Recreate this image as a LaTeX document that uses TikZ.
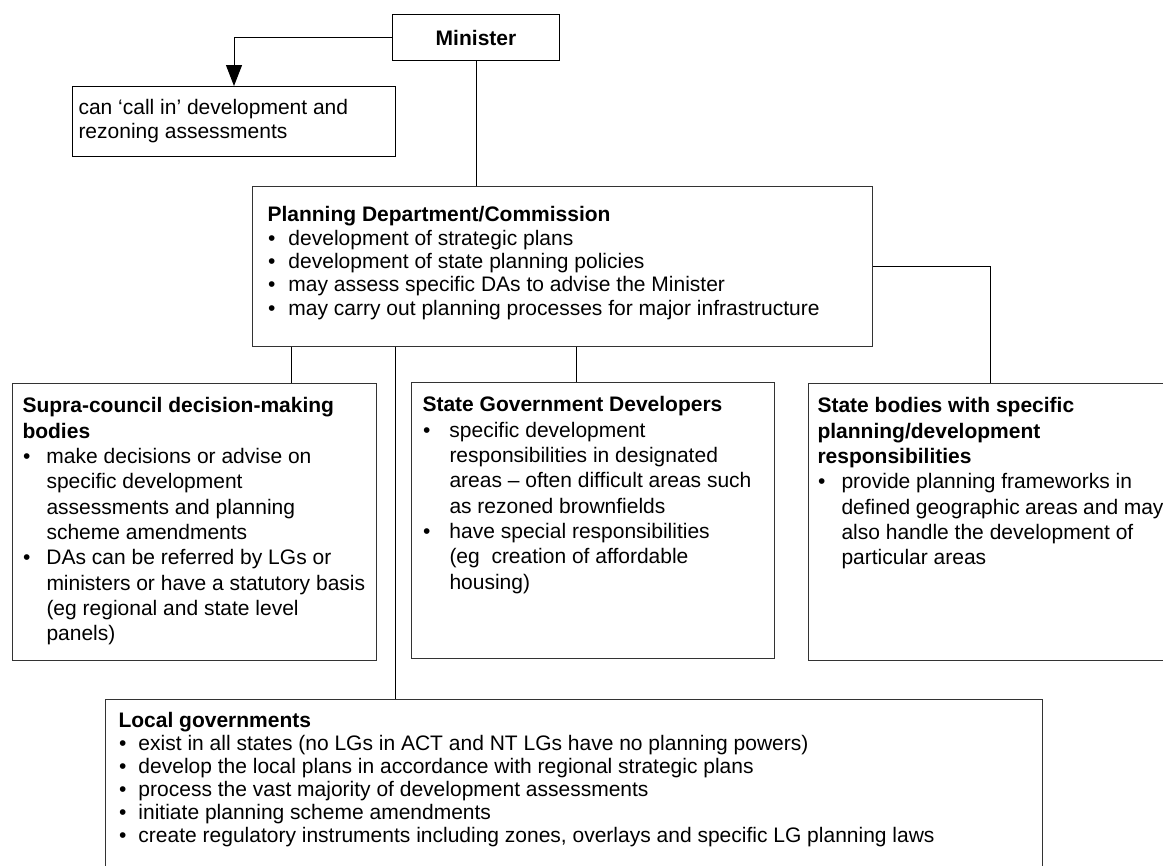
\documentclass[tikz,border=0pt]{standalone}
\usepackage{fontspec}
\setmainfont{Liberation Sans}
\usepackage{tikz}
\usetikzlibrary{arrows.meta,positioning,calc}

\newcommand{\boxfont}[1][19pt]{\fontsize{15.75pt}{#1}\selectfont}
\newcommand{\bul}[2][18pt]{\par\noindent\hangindent=#1\hangafter=1\makebox[#1][l]{\hspace{0.5pt}\textbullet}#2}

\begin{document}
\begin{tikzpicture}[x=0.75pt, y=-0.75pt]

\tikzstyle{orgbox} = [rectangle, draw=black!80, line width=0.75pt, anchor=north west, inner sep=0pt]
\tikzstyle{link} = [line width=0.75pt, draw=black]
\tikzstyle{arrow} = [link, -{Triangle[width=12pt,length=15.75pt]}]

\useasboundingbox (0,0) rectangle (1163,865);

\node (minister) [orgbox, draw=black, minimum width=125.25pt, minimum height=34.5pt] at (392,14) {\boxfont\textbf{Minister}};
\node (callin) [orgbox, draw=black, inner xsep=4.5pt, inner ysep=9.75pt] at (72,86) {\parbox[t][33pt][t]{233.25pt}{\boxfont[17.5pt]\raggedright can `call in' development and\\ rezoning assessments}};
\node (planning) [orgbox, inner xsep=11.25pt, inner ysep=15pt] at (252,186) {\parbox[t][90pt][t]{442.5pt}{\boxfont[17.5pt]\raggedright
  \textbf{Planning Department/Commission}
  \bul[15.75pt]{development of strategic plans}
  \bul[15.75pt]{development of state planning policies}
  \bul[15.75pt]{may assess specific DAs to advise the Minister}
  \bul[15.75pt]{may carry out planning processes for major infrastructure}}};
\node (supra) [orgbox, inner xsep=7.5pt, inner ysep=10.5pt] at (12,383) {\parbox[t][186.75pt][t]{258pt}{\boxfont\raggedright
  \textbf{Supra-council decision-making\\ bodies}
  \bul{make decisions or advise on\newline specific development\newline assessments and planning\newline scheme amendments}
  \bul{DAs can be referred by LGs or\newline ministers or have a statutory basis\newline (eg regional and state level\newline panels)}}};
\node (sgd) [orgbox, inner xsep=8.25pt, inner ysep=10.5pt] at (411,382) {\parbox[t][186pt][t]{255.75pt}{\boxfont\raggedright
  \textbf{State Government Developers}
  \bul[20.25pt]{specific development\newline responsibilities in designated\newline areas -- often difficult areas such\newline as rezoned brownfields}
  \bul[20.25pt]{have special responsibilities\newline (eg~ creation of affordable\newline housing)}}};
\node (statebodies) [orgbox, inner xsep=6.75pt, inner ysep=10.5pt] at (808,383) {\parbox[t][186.75pt][t]{259.5pt}{\boxfont\raggedright
  \textbf{State bodies with specific\\ planning/development\\ responsibilities}
  \bul{provide planning frameworks in\newline defined geographic areas and may\newline also handle the development of\newline particular areas}}};
\node (local) [orgbox, inner xsep=9.75pt, inner ysep=9.75pt] at (105,699) {\parbox[t][115.5pt][t]{683.25pt}{\boxfont[17.25pt]\raggedright
  \textbf{Local governments}
  \bul[15pt]{exist in all states (no LGs in ACT and NT LGs have no planning powers)}
  \bul[15pt]{develop the local plans in accordance with regional strategic plans}
  \bul[15pt]{process the vast majority of development assessments}
  \bul[15pt]{initiate planning scheme amendments}
  \bul[15pt]{create regulatory instruments including zones, overlays and specific LG planning laws}}};

\coordinate (tosupra) at ($(planning.south west)+(39,0)$);
\coordinate (tolocal) at ($(planning.south west)+(143,0)$);
\coordinate (tosgd) at ($(planning.south west)+(324,0)$);

\draw [arrow] (minister.west) -| (callin.north);
\draw [link] (minister.south) -- (minister.south |- planning.north);
\draw [link] (tosupra) -- (tosupra |- supra.north);
\draw [link] (tolocal) -- (tolocal |- local.north);
\draw [link] (tosgd) -- (tosgd |- sgd.north);
\draw [link] (planning.east) -| (statebodies.north);
\end{tikzpicture}
\end{document}
